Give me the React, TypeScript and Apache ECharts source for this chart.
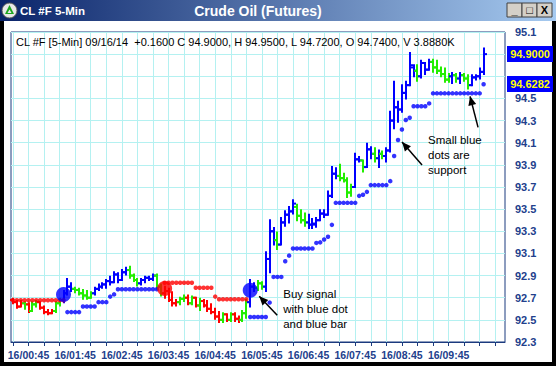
import React, { useEffect, useRef } from "react";
import * as echarts from "echarts";

const FONT = '"Liberation Sans", Arial, Helvetica, sans-serif';

// ---- axis definitions ----
const BASE = 92.3; // lowest y tick
const Y_TOP = 95.1;
const Y_STEP = 0.2;
const SLOT_COUNT = 127; // 5-minute slots on the x axis (incl. empty right margin)
const FIRST_SLOT_MINUTE = 25; // 16/00:25
const TICK_EVERY = 4;
const LABEL_EVERY = 12;
const LABEL_OFFSET = 4; // first label 16/00:45
const LAST_LABEL_SLOT = 112; // 16/09:45

// ---- OHLC bars (5-min) ----
const barOpen = [
  92.68, 92.66, 92.62, 92.65, 92.64, 92.58, 92.64, 92.66, 92.61, 92.57, 92.56, 92.58, 92.65,
  92.68, 92.74, 92.80, 92.78, 92.77, 92.74, 92.72, 92.70, 92.74, 92.78, 92.80, 92.82,
  92.85, 92.84, 92.91, 92.86, 92.93, 92.95, 92.90, 92.86, 92.83, 92.86, 92.88, 92.87,
  92.90, 92.80, 92.74, 92.76, 92.68, 92.65, 92.66, 92.69, 92.70, 92.65, 92.70, 92.63,
  92.67, 92.63, 92.60, 92.57, 92.53, 92.50, 92.55, 92.50, 92.55, 92.51, 92.50, 92.56,
  92.66, 92.80, 92.79, 92.83, 92.80, 93.05, 93.30, 93.22, 93.18, 93.38, 93.45, 93.48,
  93.52, 93.44, 93.40, 93.38, 93.36,
  93.36, 93.40, 93.46, 93.45, 93.62, 93.82, 93.80, 93.78, 93.76, 93.65, 93.70, 93.95,
  93.94, 93.88, 94.04, 94.00, 93.96, 94.00, 93.98, 94.03, 94.30, 94.42, 94.40, 94.55,
  94.62, 94.78, 94.75, 94.70, 94.82, 94.76, 94.83, 94.78, 94.75, 94.72, 94.67, 94.70,
  94.71, 94.68, 94.71, 94.68, 94.62, 94.69, 94.70, 94.74,
];
const barHigh = [
  92.69, 92.67, 92.67, 92.66, 92.65, 92.66, 92.67, 92.66, 92.62, 92.59, 92.59, 92.66, 92.69,
  92.76, 92.87, 92.83, 92.79, 92.78, 92.77, 92.76, 92.75, 92.79, 92.82, 92.83, 92.86,
  92.89, 92.93, 92.92, 92.95, 92.97, 92.98, 92.91, 92.87, 92.87, 92.89, 92.89, 92.91,
  92.91, 92.82, 92.80, 92.78, 92.75, 92.68, 92.70, 92.72, 92.72, 92.71, 92.70, 92.69,
  92.68, 92.67, 92.64, 92.60, 92.57, 92.56, 92.55, 92.56, 92.56, 92.53, 92.58, 92.68,
  92.86, 92.83, 92.85, 92.84, 93.11, 93.40, 93.33, 93.29, 93.42, 93.48, 93.52, 93.58,
  93.54, 93.49, 93.46, 93.45, 93.41,
  93.42, 93.49, 93.49, 93.66, 93.88, 93.87, 93.90, 93.82, 93.78, 93.72, 94.00, 93.97,
  93.94, 94.09, 94.06, 94.05, 94.03, 94.02, 94.05, 94.38, 94.65, 94.47, 94.62, 94.65,
  94.91, 94.80, 94.80, 94.84, 94.82, 94.85, 94.85, 94.84, 94.78, 94.77, 94.72, 94.73,
  94.72, 94.73, 94.72, 94.71, 94.71, 94.71, 94.77, 94.95,
];
const barLow = [
  92.65, 92.61, 92.62, 92.60, 92.57, 92.58, 92.62, 92.60, 92.56, 92.55, 92.56, 92.57, 92.63,
  92.66, 92.73, 92.76, 92.75, 92.73, 92.69, 92.69, 92.70, 92.73, 92.77, 92.79, 92.79,
  92.82, 92.84, 92.84, 92.86, 92.91, 92.88, 92.85, 92.81, 92.82, 92.84, 92.86, 92.86,
  92.78, 92.72, 92.70, 92.67, 92.63, 92.63, 92.64, 92.67, 92.64, 92.64, 92.62, 92.59,
  92.62, 92.58, 92.56, 92.51, 92.48, 92.48, 92.49, 92.49, 92.49, 92.48, 92.49, 92.52,
  92.62, 92.76, 92.77, 92.78, 92.76, 92.93, 93.18, 93.14, 93.18, 93.35, 93.38, 93.46,
  93.40, 93.38, 93.35, 93.33, 93.33,
  93.34, 93.40, 93.43, 93.45, 93.61, 93.78, 93.76, 93.75, 93.61, 93.62, 93.70, 93.93,
  93.84, 93.88, 93.96, 93.93, 93.88, 93.96, 93.93, 94.02, 94.23, 94.29, 94.38, 94.50,
  94.62, 94.70, 94.66, 94.69, 94.72, 94.76, 94.74, 94.73, 94.70, 94.65, 94.65, 94.64,
  94.65, 94.64, 94.66, 94.59, 94.62, 94.67, 94.68, 94.72,
];
const barClose = [
  92.66, 92.62, 92.65, 92.64, 92.58, 92.64, 92.66, 92.61, 92.57, 92.56, 92.58, 92.65, 92.68,
  92.74, 92.80, 92.78, 92.77, 92.74, 92.72, 92.70, 92.74, 92.78, 92.80, 92.82, 92.85,
  92.84, 92.91, 92.86, 92.93, 92.95, 92.90, 92.86, 92.83, 92.86, 92.88, 92.87, 92.90,
  92.80, 92.74, 92.76, 92.68, 92.65, 92.66, 92.69, 92.70, 92.65, 92.70, 92.63, 92.67,
  92.63, 92.60, 92.57, 92.53, 92.50, 92.55, 92.50, 92.55, 92.51, 92.50, 92.56, 92.66,
  92.80, 92.79, 92.83, 92.80, 93.05, 93.30, 93.22, 93.18, 93.38, 93.45, 93.48, 93.55,
  93.44, 93.40, 93.38, 93.36, 93.37,
  93.40, 93.46, 93.45, 93.62, 93.82, 93.80, 93.78, 93.76, 93.65, 93.70, 93.95, 93.94,
  93.88, 94.04, 94.00, 93.96, 94.00, 93.98, 94.03, 94.30, 94.42, 94.40, 94.55, 94.62,
  94.80, 94.75, 94.70, 94.82, 94.76, 94.83, 94.78, 94.75, 94.72, 94.67, 94.70, 94.71,
  94.68, 94.71, 94.68, 94.62, 94.69, 94.70, 94.74, 94.90,
];
// b = blue (bullish), g = green (neutral), r = red (bearish)
const barState =
  "rrrgrggrrrrgg" + "bbb" + "ggggg" + "bbbbbbbbb" + "ggg" + "bbbb" + "gg" + "rrrr" + "gg" +
  "r" + "g" + "r" + "g" + "rrrrr" + "g" + "r" + "g" + "rr" + "gg" + "bb" + "gg" + "bbb" + "g" +
  "bbbb" + "ggg" + "b" + "b" + "bbbbbb" + "gggg" + "bb" + "g" + "bb" + "g" + "b" + "g" +
  "bbbbbbbb" + "g" + "bbb" + "ggggg" + "b" + "g" + "b" + "gg" + "bbbb";

// support (blue) and resistance (red) stop dots: [fromBar, toBar, price]
const supportRuns: [number, number, number][] = [
  [14, 17, 92.57], [18, 21, 92.62], [22, 24, 92.66], [25, 25, 92.71], [26, 26, 92.73],
  [27, 37, 92.776],
  [61, 65, 92.526], [66, 66, 92.656], [67, 69, 92.888], [70, 70, 93.03], [71, 71, 93.08],
  [72, 77, 93.144], [78, 78, 93.195], [79, 79, 93.2], [80, 80, 93.226], [81, 81, 93.25],
  [82, 82, 93.358], [83, 88, 93.557], [89, 89, 93.62], [90, 90, 93.63], [91, 91, 93.656],
  [92, 96, 93.717], [97, 97, 93.753], [98, 98, 93.98], [99, 99, 94.124], [100, 100, 94.22],
  [101, 101, 94.305], [102, 102, 94.325], [103, 106, 94.43], [107, 107, 94.455],
  [108, 120, 94.546], [121, 121, 94.6282],
];
const resistanceRuns: [number, number, number][] = [
  [0, 13, 92.677], [39, 46, 92.835], [47, 51, 92.79], [52, 52, 92.71], [53, 60, 92.686],
];

// signal dots
const signalBar = [13, 39, 61];
const signalPrice = [92.73, 92.783, 92.767];
const signalKind = ["buy", "sell", "buy"];

const VOLUME_TEXT = "3.8880K";

const COLORS: Record<string, string> = { b: "#0000ff", g: "#22ee00", r: "#ff0000" };

function pad2(n: number) {
  return String(n).padStart(2, "0");
}

const categories = Array.from({ length: SLOT_COUNT }, (_, i) => {
  const m = FIRST_SLOT_MINUTE + 5 * i;
  return `16/${pad2(Math.floor(m / 60))}:${pad2(m % 60)}`;
});

function expand(runs: [number, number, number][]) {
  const out: [number, number][] = [];
  runs.forEach(([a, b, v]) => {
    for (let i = a; i <= b; i++) out.push([i, v]);
  });
  return out;
}

function arrowHead(tx: number, ty: number, sx: number, sy: number, len = 8, half = 3.5) {
  const dx = tx - sx;
  const dy = ty - sy;
  const d = Math.hypot(dx, dy) || 1;
  const ux = dx / d;
  const uy = dy / d;
  const bx = tx - ux * len;
  const by = ty - uy * len;
  return [
    [tx, ty],
    [bx - uy * half, by + ux * half],
    [bx + uy * half, by - ux * half],
  ];
}

export default function App() {
  const ref = useRef<HTMLDivElement>(null);

  useEffect(() => {
    if (!ref.current) return;
    const chart = echarts.init(ref.current, null, { renderer: "svg" });

    const n = barClose.length;
    const ohlc = barClose.map((_, i) => [
      i,
      barOpen[i] - BASE,
      barHigh[i] - BASE,
      barLow[i] - BASE,
      barClose[i] - BASE,
    ]);
    const support = expand(supportRuns);
    const resistance = expand(resistanceRuns);
    const lastClose = barClose[n - 1];
    const prevClose = barClose[n - 2];
    const lastSupport = support[support.length - 1][1];
    const change = lastClose - prevClose;
    const header =
      `CL #F [5-Min] 09/16/14  ${change >= 0 ? "+" : ""}${change.toFixed(4)} ` +
      `C ${lastClose.toFixed(4)}, H ${barHigh[n - 1].toFixed(4)}, L ${barLow[n - 1].toFixed(4)}, ` +
      `O ${barOpen[n - 1].toFixed(4)}, V ${VOLUME_TEXT}`;
    const priceTags = [lastClose, lastSupport];

    const axisColor = "#1b3a7e";
    const labelColor = "#22408c";
    const gridColor = "#b4f1f1";

    chart.setOption({
      animation: false,
      backgroundColor: "#000000",
      grid: {
        left: 11,
        right: 51,
        top: 32,
        bottom: 24,
        show: true,
        backgroundColor: "#ffffff",
        borderColor: axisColor,
        borderWidth: 1,
      },
      xAxis: {
        type: "category",
        data: categories,
        boundaryGap: true,
        axisLine: { show: true, lineStyle: { color: axisColor, width: 1 } },
        axisTick: {
          show: true,
          alignWithLabel: true,
          interval: (i: number) => i % TICK_EVERY === 0,
          length: 4,
          lineStyle: { color: axisColor },
        },
        axisLabel: {
          interval: (i: number) => i % LABEL_EVERY === LABEL_OFFSET && i <= LAST_LABEL_SLOT,
          color: labelColor,
          fontFamily: FONT,
          fontWeight: "bold",
          fontSize: 10.5,
          margin: 7,
        },
        splitLine: {
          show: true,
          alignWithLabel: true,
          interval: (i: number) => i % TICK_EVERY === 0,
          lineStyle: { color: gridColor, width: 1 },
        },
      },
      yAxis: {
        type: "value",
        position: "right",
        min: 0,
        max: Math.round((Y_TOP - BASE) * 10) / 10,
        interval: Y_STEP,
        axisLine: { show: false },
        axisTick: { show: false },
        axisLabel: {
          // labels hidden behind the price tags are not drawn
          formatter: (v: number) => {
            const price = BASE + v;
            const covered = priceTags.some((t) => Math.abs(t - price) < 0.075);
            return covered ? "" : price.toFixed(1);
          },
          color: labelColor,
          fontFamily: FONT,
          fontWeight: "bold",
          fontSize: 11,
          margin: 10,
        },
        splitLine: { show: true, lineStyle: { color: gridColor, width: 1 } },
      },
      series: [
        {
          type: "custom",
          name: "bars",
          data: ohlc,
          encode: { x: 0, y: [1, 2, 3, 4] },
          z: 3,
          renderItem: (params: any, api: any) => {
            const idx = api.value(0);
            const p = api.coord([idx, api.value(1)]);
            const x = Math.round(p[0]);
            const yo = p[1];
            const yh = api.coord([idx, api.value(2)])[1];
            const yl = api.coord([idx, api.value(3)])[1];
            const yc = api.coord([idx, api.value(4)])[1];
            const color = COLORS[barState[params.dataIndex]] || COLORS.b;
            const style = { stroke: color, lineWidth: 2, fill: null };
            return {
              type: "group",
              children: [
                { type: "line", shape: { x1: x, y1: yh - 1, x2: x, y2: yl + 1 }, style },
                { type: "line", shape: { x1: x - 3, y1: yo, x2: x, y2: yo }, style },
                { type: "line", shape: { x1: x, y1: yc, x2: x + 3, y2: yc }, style },
              ],
            };
          },
        },
        {
          type: "scatter",
          name: "support",
          data: support.map(([i, v]) => [i, v - BASE]),
          symbol: "circle",
          symbolSize: 4.5,
          itemStyle: { color: "#0000ff" },
          z: 4,
        },
        {
          type: "scatter",
          name: "resistance",
          data: resistance.map(([i, v]) => [i, v - BASE]),
          symbol: "circle",
          symbolSize: 4.5,
          itemStyle: { color: "#ff0000" },
          z: 4,
        },
        {
          type: "scatter",
          name: "signals",
          data: signalBar.map((b, k) => ({
            value: [b, signalPrice[k] - BASE],
            itemStyle: { color: signalKind[k] === "buy" ? "#0000ff" : "#ff0000" },
          })),
          symbol: "circle",
          symbolSize: 15,
          z: 5,
        },
      ],
    });

    const px = (bar: number, price: number) =>
      chart.convertToPixel({ gridIndex: 0 }, [bar, price - BASE]) as number[];

    const buyDot = px(signalBar[2], signalPrice[2]);
    const supA = px(99, supportRuns.find((r) => r[0] === 99)![2]);
    const supB = px(117, 94.546);

    const arrows = [
      { tail: [buyDot[0] + 27, buyDot[1] + 25], tip: [buyDot[0] + 9, buyDot[1] + 6] },
      { tail: [supA[0] + 24, supA[1] + 25], tip: [supA[0] + 4, supA[1] + 2] },
      { tail: [supB[0] + 10, supB[1] + 34], tip: [supB[0] + 2, supB[1] + 3] },
    ];

    const graphics: any[] = [
      // window body
      { type: "rect", z: -100, shape: { x: 4, y: 21, width: 548, height: 341 }, style: { fill: "#ffffff" } },
      // title bar
      {
        type: "rect",
        z: -90,
        shape: { x: 0, y: 0, width: 556, height: 21 },
        style: {
          fill: new echarts.graphic.LinearGradient(0, 0, 1, 0, [
            { offset: 0, color: "#0a246a" },
            { offset: 1, color: "#a6caf0" },
          ]),
        },
      },
      // icon
      { type: "circle", shape: { cx: 9.5, cy: 10.5, r: 7.5 }, style: { fill: "#e8e8e8", stroke: "#555", lineWidth: 1 } },
      { type: "polygon", shape: { points: [[9.5, 5], [14, 14], [5, 14]] }, style: { fill: "#1ea51e" } },
      { type: "polygon", shape: { points: [[9.5, 9.5], [11.5, 13], [7.5, 13]] }, style: { fill: "#e8e8e8" } },
      {
        type: "text",
        x: 20,
        y: 10.5,
        style: { text: "CL #F 5-Min", fill: "#ffffff", font: `bold 11.5px ${FONT}`, textVerticalAlign: "middle" },
      },
      {
        type: "text",
        x: 258,
        y: 10.5,
        style: {
          text: "Crude Oil (Futures)",
          fill: "#ffffff",
          font: `bold 14px ${FONT}`,
          textAlign: "center",
          textVerticalAlign: "middle",
        },
      },
      // header text
      {
        type: "text",
        x: 16,
        y: 42,
        style: { text: header, fill: "#000000", font: `11px ${FONT}`, textVerticalAlign: "middle" },
      },
      // annotations
      {
        type: "text",
        x: buyDot[0] + 33,
        y: buyDot[1] - 4,
        style: { text: "Buy signal\nwith blue dot\nand blue bar", fill: "#000", font: `11.5px ${FONT}`, lineHeight: 15 },
      },
      {
        type: "text",
        x: 428,
        y: supA[1] - 8,
        style: { text: "Small blue\ndots are\nsupport", fill: "#000", font: `11.5px ${FONT}`, lineHeight: 15 },
      },
    ];

    // price tags on the right axis (last close and last support)
    priceTags.forEach((v) => {
      const y = px(0, v)[1];
      graphics.push({
        type: "rect",
        z: 20,
        shape: { x: 507, y: Math.round(y) - 8, width: 46, height: 16 },
        style: { fill: "#0000ff" },
      });
      graphics.push({
        type: "text",
        z: 21,
        x: 530,
        y: Math.round(y),
        style: {
          text: v.toFixed(4),
          fill: "#ffff00",
          font: `bold 11px ${FONT}`,
          textAlign: "center",
          textVerticalAlign: "middle",
        },
      });
    });

    // window buttons
    const btn = [
      { x: 507, glyph: "_" },
      { x: 522, glyph: "□" },
      { x: 537, glyph: "X" },
    ];
    btn.forEach((b) => {
      graphics.push({
        type: "rect",
        shape: { x: b.x, y: 3, width: 15, height: 14 },
        style: { fill: "#d4d0c8", stroke: "#404040", lineWidth: 1 },
      });
      graphics.push({
        type: "text",
        x: b.x + 7.5,
        y: 10,
        style: {
          text: b.glyph,
          fill: "#000",
          font: `bold 11px ${FONT}`,
          textAlign: "center",
          textVerticalAlign: "middle",
        },
      });
    });

    arrows.forEach((a) => {
      graphics.push({
        type: "line",
        z: 10,
        shape: { x1: a.tail[0], y1: a.tail[1], x2: a.tip[0], y2: a.tip[1] },
        style: { stroke: "#000", lineWidth: 1.5 },
      });
      graphics.push({
        type: "polygon",
        z: 10,
        shape: { points: arrowHead(a.tip[0], a.tip[1], a.tail[0], a.tail[1], 9, 4) },
        style: { fill: "#000" },
      });
    });

    chart.setOption({ graphic: graphics });

    return () => chart.dispose();
  }, []);

  return (
    <div
      ref={ref}
      style={{ position: "fixed", left: 0, top: 0, width: 556, height: 366 }}
    />
  );
}
